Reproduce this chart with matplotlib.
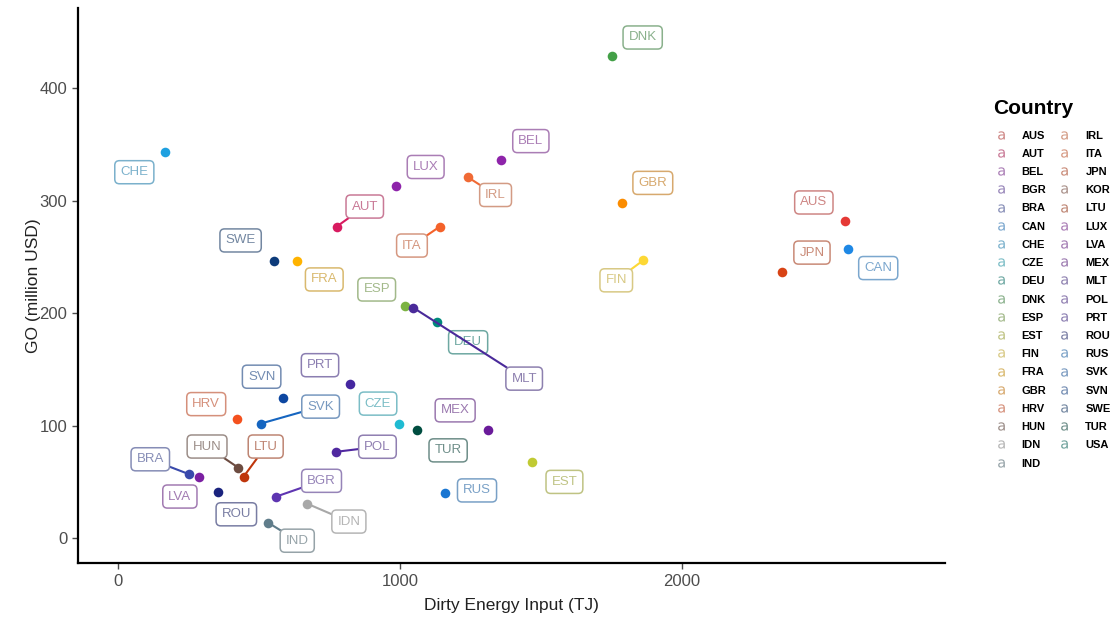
#IMPORT NECESSARY LIBRARIES
import numpy as np
import matplotlib.pyplot as plt
import matplotlib.colors as mcolors
from matplotlib.lines import Line2D

plt.rcParams['font.family'] = ['Liberation Sans', 'DejaVu Sans']


#DATA
countries = ["AUS", "AUT", "BEL", "BGR", "BRA", "CAN", "CHE", "CZE", "DEU", "DNK",
             "ESP", "EST", "FIN", "FRA", "GBR", "HRV", "HUN", "IDN", "IND", "IRL",
             "ITA", "JPN", "KOR", "LTU", "LUX", "LVA", "MEX", "MLT", "POL", "PRT",
             "ROU", "RUS", "SVK", "SVN", "SWE", "TUR", "USA"]
dirty_energy = [2578, 776, 1358, 559, 253, 2590, 168, 997, 1132, 1751,
                1017, 1470, 1863, 636, 1787, 423, 426, 670, 533, 1240,
                1142, 2355, None, 446, 985, 287, 1313, 1047, 775, 823,
                356, 1160, 506, 584, 552, 1061, None]
go_output = [281.5, 277, 336, 37, 57, 257, 343, 102, 192, 428,
             206, 68, 247, 246, 298, 106, 63, 31, 14, 321,
             277, 237, None, 55, 313, 55, 96, 205, 77, 137,
             41, 40, 102, 125, 246, 96, None]

#COLOURS (MATERIAL-LIKE PALETTE)
colours = ["#E53935", "#D81B60", "#8E24AA", "#5E35B1", "#3949AB", "#1E88E5", "#1EA0E0", "#1FBBD2",
           "#00897B", "#43A047", "#7CB342", "#C0CA33", "#FDD835", "#FFB300", "#FB8C00", "#F4511E",
           "#6D4C41", "#A8A8A8", "#607D8B", "#F06A35", "#F4622A", "#D84315", "#8D5040", "#BF360C",
           "#8E24AA", "#7B1FA2", "#6A1B9A", "#4A2A9A", "#5028A0", "#4527A0", "#1A237E", "#1976D2",
           "#1565C0", "#0D47A1", "#0D3B7A", "#004D40", "#00796B"]

#LABEL OFFSETS (PIXELS FROM POINT) AND WHICH LABELS GET A SEGMENT
label_offsets = [(-31, 19), (28, 20), (30, 19), (46, 16), (-39, 15), (30, -19), (-31, -20), (-21, 20),
                 (31, -20), (31, 19), (-28, 17), (32, -20), (-27, -20), (27, -18), (31, 20), (-31, 15),
                 (-31, 21), (42, -18), (29, -18), (28, -18), (-28, -19), (30, 19), (0, 0), (22, 30),
                 (30, 19), (-19, -20), (-33, 20), (111, -71), (41, 5), (-30, 19), (18, -22), (32, 3),
                 (60, 17), (-21, 21), (-33, 21), (31, -20), (0, 0)]
with_segment = ["AUT", "BGR", "BRA", "FIN", "HUN", "IDN", "IND", "IRL", "ITA", "LTU", "MLT", "POL", "SVK"]


def label_colour(c):
    r, g, b = mcolors.to_rgb(c)
    mix = lambda v: 0.42 * v + 0.33 * 0.55 + 0.25 * 1.0
    return (mix(r), mix(g), mix(b))


#PLOT
fig = plt.figure(figsize=(11.13, 6.21), dpi=100)
ax = fig.add_axes([0.070, 0.093, 0.779, 0.894])

for i, code in enumerate(countries):
    x, y = dirty_energy[i], go_output[i]
    if x is None:
        continue
    ax.scatter(x, y, s=48, color=colours[i], zorder=3, linewidths=0)

for i, code in enumerate(countries):
    x, y = dirty_energy[i], go_output[i]
    if x is None:
        continue
    lc = label_colour(colours[i])
    arrow = None
    if code in with_segment:
        arrow = dict(arrowstyle='-', color=colours[i], lw=1.5, shrinkA=0, shrinkB=0)
    ax.annotate(code, xy=(x, y), xytext=label_offsets[i], textcoords='offset pixels',
                ha='center', va='center', fontsize=9.5, color=lc, zorder=4,
                bbox=dict(boxstyle='round,pad=0.42,rounding_size=0.35', fc='white', ec=lc, lw=1.1),
                arrowprops=arrow)

ax.set_xlim(-142, 2933)
ax.set_ylim(-22, 471)
ax.set_xticks([0, 1000, 2000])
ax.set_yticks([0, 100, 200, 300, 400])
ax.tick_params(colors='#4D4D4D', labelsize=12, length=4, width=1)
for side in ['top', 'right']:
    ax.spines[side].set_visible(False)
for side in ['left', 'bottom']:
    ax.spines[side].set_linewidth(1.6)
    ax.spines[side].set_color('black')
ax.set_xlabel("Dirty Energy Input (TJ)", fontsize=12.5, color='#222222', labelpad=7)
ax.set_ylabel("GO (million USD)", fontsize=12.5, color='#222222', labelpad=-1)

#LEGEND
fig.text(993 / 1113, 1 - 108 / 621, "Country", fontsize=15, fontweight='bold', va='center', ha='left')
handles = [Line2D([], [], marker=r'$\mathsf{a}$', linestyle='none', markersize=6,
                  color=label_colour(colours[i]), markeredgewidth=0) for i in range(len(countries))]
leg = fig.legend(handles, countries, loc='upper left', bbox_to_anchor=(0.890, 1 - 125 / 621), ncol=2,
                 frameon=False, prop={'size': 8, 'weight': 'bold'},
                 handlelength=0.8, handletextpad=1.5, columnspacing=1.2, labelspacing=0.74,
                 borderpad=0)

fig.savefig("out.png", dpi=100)
